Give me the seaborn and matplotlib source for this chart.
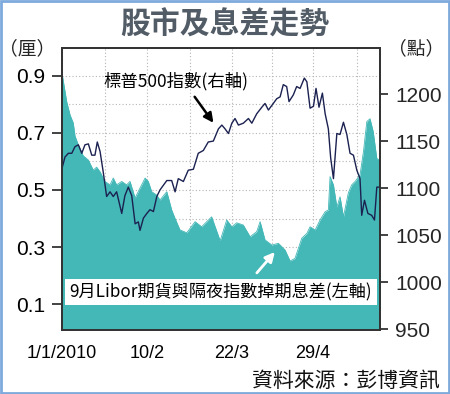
import matplotlib
matplotlib.use("Agg")
import matplotlib.pyplot as plt
import seaborn as sns
import numpy as np
from matplotlib.patches import Rectangle

# ---- data (x = days since 1 Jan 2010) ----
sp_day = [0, 1.4, 3.0, 4.6, 6.1, 7.7, 9.3, 10.8, 12.4, 14.0, 15.5, 16.6, 17.9, 19.4,
          21.0, 22.6, 24.1, 25.7, 28.1, 29.6, 31.2, 32.8, 34.4, 35.9, 36.7, 38.3,
          39.9, 41.4, 43.0, 44.6, 46.1, 49.3, 51.6, 53.2, 54.7, 57.1, 59.4, 61.8,
          64.1, 66.5, 68.8, 71.2, 73.6, 75.2, 76.7, 78.3, 79.9, 81.4, 83.0, 85.3,
          87.7, 89.3, 91.6, 94.0, 95.5, 97.1, 99.4, 101.0, 102.6, 104.1, 105.7,
          106.8, 108.8, 110.4, 112.0, 114.0, 115.2, 116.7, 118.3, 119.5, 120.9,
          122.5, 123.8, 125.3, 126.4, 127.7, 129.3, 130.8, 132.4, 134.0, 135.5,
          137.1, 138.7, 140.2, 141.0, 142.3, 143.9, 145.7, 147.0, 148.1, 149.6]
sp_val = [1121, 1133, 1137, 1137, 1144, 1146, 1137, 1146, 1147, 1135, 1135, 1149, 1139, 1117,
          1091, 1096, 1091, 1096, 1073, 1092, 1101, 1092, 1062, 1064, 1055, 1068,
          1073, 1077, 1075, 1091, 1098, 1108, 1108, 1096, 1110, 1107, 1119, 1120,
          1137, 1140, 1149, 1150, 1163, 1167, 1163, 1158, 1169, 1174, 1167, 1169,
          1174, 1169, 1179, 1186, 1190, 1183, 1190, 1195, 1197, 1210, 1208,
          1192, 1199, 1208, 1206, 1217, 1213, 1185, 1187, 1206, 1186,
          1201, 1179, 1163, 1132, 1110, 1158, 1157, 1170, 1157, 1137,
          1135, 1119, 1110, 1071, 1087, 1073, 1071, 1066, 1101, 1101]

spread_day = [0, 2.2, 3.8, 5.3, 6.1, 7.7, 10.0, 12.4, 14.7, 16.3, 17.9, 20.2, 22.6, 24.1,
              25.7, 28.1, 30.4, 32.0, 34.4, 36.7, 39.1, 40.6, 42.2, 44.6, 46.1, 49.3,
              51.6, 53.2, 55.5, 58.7, 62.6, 65.7, 70.4, 74.4, 77.5, 79.9, 82.2, 85.3,
              88.5, 91.6, 93.2, 95.5, 98.7, 101.8, 104.9, 107.3, 109.6, 112.8, 115.2,
              116.7, 119.1, 121.4, 123.8, 125.3, 126.1, 127.7, 129.3, 130.8, 132.4,
              134.7, 136.3, 137.9, 140.2, 141.8, 143.4, 144.9, 146.4, 148.1, 149.6]
spread_val = [0.91, 0.81, 0.763, 0.735, 0.69, 0.658, 0.62, 0.605, 0.57, 0.58, 0.564, 0.53, 0.518, 0.542,
              0.518, 0.53, 0.518, 0.53, 0.472, 0.507, 0.542, 0.53, 0.494, 0.482, 0.465, 0.494,
              0.43, 0.40, 0.36, 0.35, 0.389, 0.371, 0.406, 0.322, 0.395, 0.371, 0.385, 0.377,
              0.336, 0.354, 0.389, 0.325, 0.307, 0.313, 0.29, 0.251, 0.26, 0.331, 0.348,
              0.371, 0.36, 0.395, 0.424, 0.43, 0.547, 0.518, 0.44, 0.476, 0.406,
              0.49, 0.518, 0.53, 0.553, 0.634, 0.74, 0.75, 0.705, 0.61, 0.605]

x_ticks = [0, 40, 80, 118]
x_tick_labels = ["1/1/2010", "10/2", "22/3", "29/4"]
x_minor = [20, 60, 99, 139]
left_ticks = [0.1, 0.3, 0.5, 0.7, 0.9]
left_minor = [0.2, 0.4, 0.6, 0.8]
right_ticks = [950, 1000, 1050, 1100, 1150, 1200]

TEAL = "#44b7b7"
NAVY = "#1b2150"

sns.set_style("white")
plt.rcParams['font.family'] = ['Liberation Sans', 'Noto Sans CJK TC', 'DejaVu Sans']
CJK = ['Noto Sans CJK TC', 'DejaVu Sans']

fig = plt.figure(figsize=(4.5, 3.94), dpi=100)
ax = fig.add_axes([62/450, 1-330/394, 318/450, 282/394])
ax2 = ax.twinx()

# spread area (left axis)
ax.fill_between(spread_day, spread_val, 0, color=TEAL, lw=0, zorder=1)
sns.lineplot(x=spread_day, y=spread_val, ax=ax, color=TEAL, lw=0.6,
             estimator=None, sort=False, zorder=1.1)

# S&P line (right axis)
sns.lineplot(x=sp_day, y=sp_val, ax=ax2, color=NAVY, lw=1.0,
             estimator=None, sort=False)

ax.set_xlim(0, 149.6)
ax.set_ylim(0.009, 0.998)
ax2.set_ylim(949, 1249)

ax.set_xticks(x_ticks)
ax.set_xticklabels(x_tick_labels, fontsize=13)
ax.set_xticks(x_minor, minor=True)
ax.set_yticks(left_ticks)
ax.set_yticklabels([f"{v:.1f}" for v in left_ticks], fontsize=15)
ax.set_yticks(left_minor, minor=True)
ax2.set_yticks(right_ticks)
ax2.set_yticklabels([str(v) for v in right_ticks], fontsize=15)

ax.set_axisbelow(True)
ax.grid(True, which='both', ls=(0, (1, 2)), color='#b5b5b5', lw=0.8, zorder=0)
ax.tick_params(axis='both', which='major', direction='out', length=7, width=1.2,
               color='#222222', labelcolor='black')
ax.tick_params(axis='y', which='major', pad=5)
ax.tick_params(axis='x', which='major', pad=4)
ax.tick_params(axis='both', which='minor', length=0)
ax2.tick_params(axis='y', direction='out', length=6, width=1.2, color='#222222', pad=5)
ax.set_xlabel("")
ax.set_ylabel("")
ax2.set_ylabel("")
for a in (ax, ax2):
    for s in a.spines.values():
        s.set_color('#333333')
        s.set_linewidth(1.3)
        s.set_visible(True)

# annotations
ax2.text(0.358, 0.883, "標普500指數(右軸)", transform=ax2.transAxes, ha='center',
         va='center', fontsize=12.5, family=CJK, color='black')
ax2.annotate("", xy=(72, 1167), xytext=(0.412, 0.835), xycoords='data',
             textcoords='axes fraction',
             arrowprops=dict(arrowstyle='-|>', color='black', lw=1.8, mutation_scale=14))
ax2.text(0.5, 0.135, "9月Libor期貨與隔夜指數掉期息差(左軸)", transform=ax2.transAxes,
         ha='center', va='center', fontsize=12.3, family=CJK, color='black',
         bbox=dict(boxstyle='square,pad=0.25', fc='white', ec='none'), zorder=5)
ax.annotate("", xy=(101, 0.29), xytext=(0.607, 0.195), xycoords='data',
            textcoords='axes fraction',
            arrowprops=dict(arrowstyle='-|>', color='white', lw=2.0, mutation_scale=14),
            zorder=4)

# titles and units
fig.text(0.5, 1-25/394, "股市及息差走勢", ha='center', va='center', fontsize=21.5,
         fontweight='bold', family=CJK, color='#525c66')
fig.text(27/450, 1-49/394, "（厘）", ha='center', va='center', fontsize=13.5, family=CJK)
fig.text(416/450, 1-49/394, "（點）", ha='center', va='center', fontsize=13.5, family=CJK)
fig.text(440/450, 1-381/394, "資料來源：彭博資訊", ha='right', va='center', fontsize=15,
         family=CJK, color='#111111')

fig.patches.append(Rectangle((0.002, 0.002), 0.996, 0.996, transform=fig.transFigure,
                             fill=False, ec='#7ea9dc', lw=2))

fig.savefig("out.png", dpi=100)
